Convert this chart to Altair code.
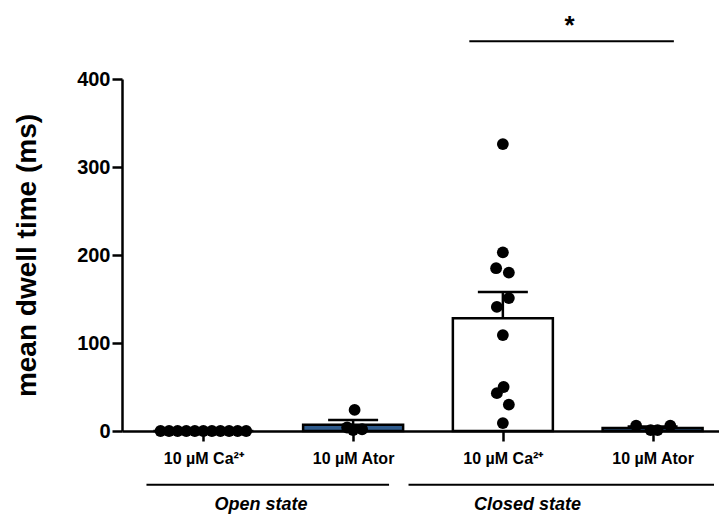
import json
import altair as alt
import pandas as pd

# ---- summary data ----
groups = ["Open state", "Open state", "Closed state", "Closed state"]
conditions = ["10 µM Ca²⁺", "10 µM Ator", "10 µM Ca²⁺", "10 µM Ator"]
positions = [1, 2, 3, 4]
means = [0, 7, 128, 3.5]
sems = [0, 5.5, 30, 1.5]
bar_fills = ["white", "#2f5b8c", "white", "#2f5b8c"]

# ---- individual points ----
open_ca_values = [0, 0, 0, 0, 0, 0, 0, 0, 0, 0, 0]
open_ca_jitter = [-0.286, -0.229, -0.172, -0.114, -0.057, 0.0, 0.057, 0.114, 0.172, 0.229, 0.286]
open_ator_values = [24, 4, 1, 2]
open_ator_jitter = [0.01, -0.04, 0.0, 0.06]
closed_ca_values = [326, 203, 185, 180, 151, 141, 109, 50, 43, 30, 9]
closed_ca_jitter = [0.0, 0.0, -0.045, 0.04, 0.04, -0.04, 0.0, 0.005, -0.04, 0.04, 0.0]
closed_ator_values = [6, 1, 1, 6]
closed_ator_jitter = [-0.11, -0.013, 0.033, 0.118]

# ---- annotations ----
group_labels = ["Open state", "Closed state"]
group_line_start = [0.62, 2.37]
group_line_end = [2.24, 4.41]
group_label_x = [1.385, 3.165]
group_line_y = -61
group_label_y = -84
sig_start, sig_end, sig_y = 2.776, 4.142, 443
sig_text, sig_text_x, sig_text_y = "*", 3.446, 460

FONT = "Liberation Sans"
XDOM = [0.49, 4.41]

summary = pd.DataFrame({
    "x": positions, "y": means, "sem": sems, "fill": bar_fills,
    "cond": conditions, "group": groups,
})
summary["top"] = summary["y"] + summary["sem"]
err = summary[summary["sem"] > 0]

pts = []
for p, vals, jit in [(1, open_ca_values, open_ca_jitter),
                     (2, open_ator_values, open_ator_jitter),
                     (3, closed_ca_values, closed_ca_jitter),
                     (4, closed_ator_values, closed_ator_jitter)]:
    for v, j in zip(vals, jit):
        pts.append({"x": p + j, "y": v})
points = pd.DataFrame(pts)

glines = pd.DataFrame({"x": group_line_start, "x2": group_line_end,
                       "y": [group_line_y] * 2})
glabels = pd.DataFrame({"x": group_label_x, "y": [group_label_y] * 2,
                        "t": group_labels})
sig_line = pd.DataFrame({"x": [sig_start], "x2": [sig_end], "y": [sig_y]})
sig_lab = pd.DataFrame({"x": [sig_text_x], "y": [sig_text_y], "t": [sig_text]})

label_expr = f"{json.dumps(conditions)}[datum.value - 1]"

X = alt.X("x:Q", scale=alt.Scale(domain=XDOM, nice=False, zero=False),
          axis=alt.Axis(values=positions, labelExpr=label_expr, title=None,
                        grid=False, labelFontSize=16, labelPadding=9,
                        tickSize=10, labelFlush=False))


def Y(field="y:Q"):
    return alt.Y(field, scale=alt.Scale(domain=[0, 400], nice=False),
                 axis=alt.Axis(values=[0, 100, 200, 300, 400],
                               title="mean dwell time (ms)", grid=False,
                               labelFontSize=20, titleFontSize=28, tickSize=10,
                               labelPadding=2, titlePadding=35))


bars = alt.Chart(summary).mark_bar(size=100, stroke="black", strokeWidth=2.5).encode(
    x=X, y=Y(), fill=alt.Fill("fill:N", scale=None))
err_rule = alt.Chart(err).mark_rule(color="black", strokeWidth=2.5).encode(
    x=X, y=Y(), y2="top:Q")
err_cap = alt.Chart(err).mark_tick(color="black", orient="horizontal", size=50,
                                   thickness=2.5, opacity=1).encode(
    x=X, y=Y("top:Q"))
dots = alt.Chart(points).mark_circle(size=140, color="black", opacity=1).encode(
    x=X, y=Y())
grp_lines = alt.Chart(glines).mark_rule(color="black", strokeWidth=2).encode(
    x=X, x2="x2:Q", y=Y())
grp_text = alt.Chart(glabels).mark_text(font=FONT, fontSize=18, fontWeight="bold",
                                        fontStyle="italic", color="black",
                                        baseline="middle").encode(
    x=X, y=Y(), text="t:N")
sig_rule = alt.Chart(sig_line).mark_rule(color="black", strokeWidth=2).encode(
    x=X, x2="x2:Q", y=Y())
sig_star = alt.Chart(sig_lab).mark_text(font=FONT, fontSize=26, fontWeight="bold",
                                        color="black", baseline="middle").encode(
    x=X, y=Y(), text="t:N")

chart = alt.layer(bars, err_rule, err_cap, dots, grp_lines, grp_text, sig_rule, sig_star).properties(
    width=597, height=352,
    padding={"left": 5, "right": 0, "top": 5, "bottom": 0},
).configure_view(stroke=None).configure_axis(
    domainColor="black", domainWidth=2.5, tickColor="black", tickWidth=2.5,
    labelColor="black", titleColor="black", labelFont=FONT, titleFont=FONT,
    labelFontWeight="bold", titleFontWeight="bold",
)

chart.save("out.html", embed_options={"renderer": "svg", "actions": False})
